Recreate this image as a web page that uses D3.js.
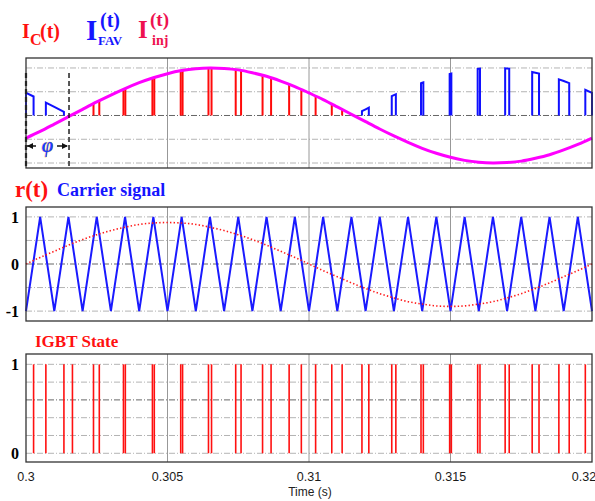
<!DOCTYPE html>
<html>
<head>
<meta charset="utf-8">
<script src="https://cdn.jsdelivr.net/npm/d3@7"></script>
<style>
    body { margin: 0; background: #fff; }
    svg { display: block; }
</style>
</head>
<body>
<div id="chart"></div>
<script>
// time ticks (s)
var timeTicks = [0.3, 0.305, 0.31, 0.315, 0.32];
var timeTickLabels = ['0.3', '0.305', '0.31', '0.315', '0.32'];

// sample times for the sine curves, every 0.5 ms
var sampleTimes = [0.3, 0.3005, 0.301, 0.3015, 0.302, 0.3025, 0.303, 0.3035, 0.304, 0.3045,
    0.305, 0.3055, 0.306, 0.3065, 0.307, 0.3075, 0.308, 0.3085, 0.309, 0.3095,
    0.31, 0.3105, 0.311, 0.3115, 0.312, 0.3125, 0.313, 0.3135, 0.314, 0.3145,
    0.315, 0.3155, 0.316, 0.3165, 0.317, 0.3175, 0.318, 0.3185, 0.319, 0.3195, 0.32];

// Ic(t) line current (magenta)
var icValues = [-0.95, -0.67, -0.36, -0.05, 0.26, 0.57, 0.86, 1.13, 1.38, 1.59,
    1.76, 1.89, 1.97, 2.0, 1.98, 1.92, 1.8, 1.65, 1.45, 1.22,
    0.95, 0.67, 0.36, 0.05, -0.26, -0.57, -0.86, -1.13, -1.38, -1.59,
    -1.76, -1.89, -1.97, -2.0, -1.98, -1.92, -1.8, -1.65, -1.45, -1.22, -0.95];

// r(t) reference (red dots)
var refValues = [0, 0.14, 0.27, 0.4, 0.52, 0.62, 0.71, 0.78, 0.84, 0.87,
    0.88, 0.87, 0.84, 0.78, 0.71, 0.62, 0.52, 0.4, 0.27, 0.14,
    0, -0.14, -0.27, -0.4, -0.52, -0.63, -0.72, -0.8, -0.85, -0.89,
    -0.9, -0.89, -0.85, -0.8, -0.72, -0.63, -0.52, -0.4, -0.27, -0.14, 0];

// carrier triangle corners
var carrierTimes = [0.3, 0.3005, 0.301, 0.3015, 0.302, 0.3025, 0.303, 0.3035, 0.304, 0.3045,
    0.305, 0.3055, 0.306, 0.3065, 0.307, 0.3075, 0.308, 0.3085, 0.309, 0.3095,
    0.31, 0.3105, 0.311, 0.3115, 0.312, 0.3125, 0.313, 0.3135, 0.314, 0.3145,
    0.315, 0.3155, 0.316, 0.3165, 0.317, 0.3175, 0.318, 0.3185, 0.319, 0.3195, 0.32];
var carrierValues = [-1, 1, -1, 1, -1, 1, -1, 1, -1, 1,
    -1, 1, -1, 1, -1, 1, -1, 1, -1, 1,
    -1, 1, -1, 1, -1, 1, -1, 1, -1, 1,
    -1, 1, -1, 1, -1, 1, -1, 1, -1, 1, -1];

// IGBT switching instants (s)
var igbtTimes = [0.300268, 0.300702, 0.30134, 0.301641, 0.302385, 0.30259, 0.303444, 0.30351,
    0.304467, 0.304533, 0.305467, 0.305533, 0.306448, 0.306556, 0.30741, 0.307599,
    0.308359, 0.30866, 0.309298, 0.309729, 0.310234, 0.310805, 0.311171, 0.311871,
    0.312114, 0.312924, 0.313069, 0.313958, 0.31404, 0.31497, 0.31503, 0.31596,
    0.316042, 0.316931, 0.317075, 0.317886, 0.318128, 0.318829, 0.319195, 0.319764];

// I_FAV conduction intervals (s)
var favIntervals = [[0.3, 0.300268], [0.300702, 0.30134], [0.311871, 0.312114],
    [0.312924, 0.313069], [0.313958, 0.31404], [0.31497, 0.31503],
    [0.31596, 0.316042], [0.316931, 0.317075], [0.317886, 0.318128],
    [0.318829, 0.319195], [0.319764, 0.32]];

// phase shift marker
var phiTime = 0.30152;

var width = 595, height = 501;
var serif = '"Liberation Serif", "Times New Roman", serif';
var sans = '"Liberation Sans", Arial, sans-serif';

var svg = d3.select('#chart').append('svg')
    .attr('width', width)
    .attr('height', height);

var x = d3.scaleLinear().domain([0.3, 0.32]).range([26, 592]);

var yTop = d3.scaleLinear().domain([-2.21, 2.42]).range([168, 58]);
var yMid = d3.scaleLinear().domain([-1.21, 1.21]).range([321, 207]);
var yBot = d3.scaleLinear().domain([-0.098, 1.116]).range([462, 354]);

// linear lookup of Ic between samples
var icAt = d3.scaleLinear().domain(sampleTimes).range(icValues);

function drawGrid(y, levels, darkLevel) {
    var g = svg.append('g');
    g.selectAll('.hgrid')
        .data(levels)
        .enter()
        .append('line')
        .attr('x1', x.range()[0])
        .attr('x2', x.range()[1])
        .attr('y1', function (d) { return y(d); })
        .attr('y2', function (d) { return y(d); })
        .attr('stroke', function (d) { return d === darkLevel ? '#666' : '#b4b4b4'; })
        .attr('stroke-width', 1)
        .attr('stroke-dasharray', '6,2,1,2');

    g.selectAll('.vgrid')
        .data(timeTicks.slice(1, -1))
        .enter()
        .append('line')
        .attr('x1', function (d) { return x(d); })
        .attr('x2', function (d) { return x(d); })
        .attr('y1', y.range()[1])
        .attr('y2', y.range()[0])
        .attr('stroke', '#8c8c8c')
        .attr('stroke-width', 0.9);
}

function drawFrame(y) {
    svg.append('rect')
        .attr('x', x.range()[0])
        .attr('y', y.range()[1])
        .attr('width', x.range()[1] - x.range()[0])
        .attr('height', y.range()[0] - y.range()[1])
        .attr('fill', 'none')
        .attr('stroke', '#333')
        .attr('stroke-width', 1.3);
}

function yLabels(y, values, labels) {
    svg.selectAll(null)
        .data(values)
        .enter()
        .append('text')
        .attr('x', 19)
        .attr('y', function (d) { return y(d); })
        .attr('dy', '0.36em')
        .attr('text-anchor', 'end')
        .style('font-family', serif)
        .style('font-weight', 'bold')
        .style('font-size', '16px')
        .text(function (d, i) { return labels[i]; });
}

function label(px, py, size, color, txt, italic) {
    return svg.append('text')
        .attr('x', px)
        .attr('y', py)
        .style('font-family', serif)
        .style('font-weight', 'bold')
        .style('font-style', italic ? 'italic' : 'normal')
        .style('font-size', size + 'px')
        .attr('fill', color)
        .text(txt);
}

// ---------- top panel: Ic, I_FAV, I_inj ----------
drawGrid(yTop, [-2, -1, 0, 1, 2], 0);

// red collector current pulses
svg.append('g').selectAll('line')
    .data(igbtTimes.filter(function (t) { return icAt(t) > 0.03; }))
    .enter()
    .append('line')
    .attr('x1', function (d) { return x(d); })
    .attr('x2', function (d) { return x(d); })
    .attr('y1', yTop(0))
    .attr('y2', function (d) { return yTop(icAt(d)); })
    .attr('stroke', '#ff0a0a')
    .attr('stroke-width', 2);

// blue FAV pulses, top follows -Ic
function favPath(iv) {
    var pts = [[iv[0], 0], [iv[0], -icAt(iv[0])]];
    sampleTimes.forEach(function (t) {
        if (t > iv[0] && t < iv[1]) pts.push([t, -icAt(t)]);
    });
    pts.push([iv[1], -icAt(iv[1])]);
    pts.push([iv[1], 0]);
    return d3.line()
        .x(function (p) { return x(p[0]); })
        .y(function (p) { return yTop(p[1]); })(pts);
}

svg.append('g').selectAll('path')
    .data(favIntervals)
    .enter()
    .append('path')
    .attr('d', favPath)
    .attr('fill', 'none')
    .attr('stroke', '#1010ff')
    .attr('stroke-width', 2)
    .attr('stroke-linejoin', 'miter');

// magenta line current
var icLine = d3.line()
    .x(function (d, i) { return x(sampleTimes[i]); })
    .y(function (d) { return yTop(d); })
    .curve(d3.curveNatural);

svg.append('path')
    .datum(icValues)
    .attr('d', icLine)
    .attr('fill', 'none')
    .attr('stroke', '#ff00ff')
    .attr('stroke-width', 3);

// phase shift marker
var phiX0 = x(0.3), phiX1 = x(phiTime), phiY = 146;
[phiX0, phiX1].forEach(function (px, i) {
    svg.append('line')
        .attr('x1', px).attr('x2', px)
        .attr('y1', 73).attr('y2', 168)
        .attr('stroke', '#111')
        .attr('stroke-width', i === 0 ? 2.2 : 1.4)
        .attr('stroke-dasharray', '5,3');
});
svg.append('line')
    .attr('x1', phiX0 + 1).attr('x2', phiX0 + 10)
    .attr('y1', phiY).attr('y2', phiY)
    .attr('stroke', '#111').attr('stroke-width', 1.5);
svg.append('line')
    .attr('x1', phiX1 - 12).attr('x2', phiX1 - 2)
    .attr('y1', phiY).attr('y2', phiY)
    .attr('stroke', '#111').attr('stroke-width', 1.5);
svg.append('path')
    .attr('d', 'M' + (phiX0 + 1) + ',' + phiY + 'l6,-3l0,6z')
    .attr('fill', '#111');
svg.append('path')
    .attr('d', 'M' + (phiX1 - 1) + ',' + phiY + 'l-6,-3l0,6z')
    .attr('fill', '#111');
label((phiX0 + phiX1) / 2, phiY + 6, 20, '#1a3cff', 'φ', true)
    .attr('text-anchor', 'middle')
    .attr('stroke', '#f5b000')
    .attr('stroke-width', 0.5)
    .attr('paint-order', 'stroke');

drawFrame(yTop);

// titles
label(22, 38, 20, '#ff1010', 'I');
label(30, 45, 16, '#ff1010', 'C');
label(40, 38, 20, '#ff1010', '(t)');

label(86, 40, 29, '#1515ff', 'I');
label(100, 27, 20, '#1515ff', '(t)');
label(98, 45, 13, '#1515ff', 'FAV');

label(138, 38, 25, '#ee1150', 'I');
label(150, 26, 19, '#ee1150', '(t)');
label(152, 45, 14, '#ee1150', 'inj');

// ---------- middle panel: r(t) and carrier ----------
drawGrid(yMid, [-1, -0.5, 0, 0.5, 1], 0);

var carrierLine = d3.line()
    .x(function (d, i) { return x(carrierTimes[i]); })
    .y(function (d) { return yMid(d); });

svg.append('path')
    .datum(carrierValues)
    .attr('d', carrierLine)
    .attr('fill', 'none')
    .attr('stroke', '#1a1aff')
    .attr('stroke-width', 2);

var refLine = d3.line()
    .x(function (d, i) { return x(sampleTimes[i]); })
    .y(function (d) { return yMid(d); })
    .curve(d3.curveNatural);

svg.append('path')
    .datum(refValues)
    .attr('d', refLine)
    .attr('fill', 'none')
    .attr('stroke', '#ff1a1a')
    .attr('stroke-width', 1.6)
    .attr('stroke-dasharray', '1.4,2.2');

drawFrame(yMid);
yLabels(yMid, [1, 0, -1], ['1', '0', '-1']);

label(15, 197, 23, '#ff1010', 'r(t)');
label(57, 196, 18, '#1515ff', 'Carrier signal');

// ---------- bottom panel: IGBT state ----------
drawGrid(yBot, [0, 0.2, 0.4, 0.6, 0.8, 1], 0.6);

svg.append('g').selectAll('line')
    .data(igbtTimes)
    .enter()
    .append('line')
    .attr('x1', function (d) { return x(d); })
    .attr('x2', function (d) { return x(d); })
    .attr('y1', yBot(0))
    .attr('y2', yBot(1))
    .attr('stroke', '#ff1010')
    .attr('stroke-width', 1.6);

drawFrame(yBot);
yLabels(yBot, [1, 0], ['1', '0']);

label(35, 347, 17, '#ff1010', 'IGBT State');

// x axis labels
svg.selectAll('.xtick')
    .data(timeTicks)
    .enter()
    .append('text')
    .attr('x', function (d, i) { return i === timeTicks.length - 1 ? x(d) - 8 : x(d); })
    .attr('y', 481)
    .attr('text-anchor', 'middle')
    .style('font-family', sans)
    .style('font-size', '12.5px')
    .attr('fill', '#1a1a1a')
    .text(function (d, i) { return timeTickLabels[i]; });

svg.append('text')
    .attr('x', 310)
    .attr('y', 496)
    .attr('text-anchor', 'middle')
    .style('font-family', sans)
    .style('font-size', '12px')
    .attr('fill', '#222')
    .text('Time (s)');
</script>
</body>
</html>
